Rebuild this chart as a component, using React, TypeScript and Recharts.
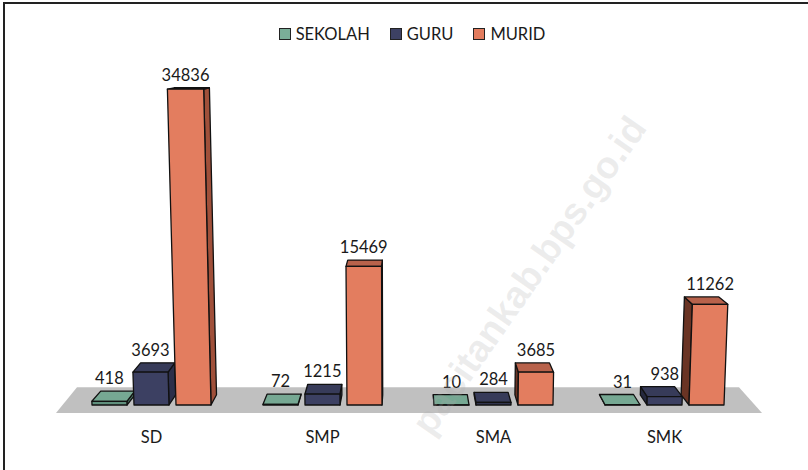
import React from 'react';
import { BarChart, Bar, XAxis, YAxis, ReferenceArea } from 'recharts';

const categories = ['SD', 'SMP', 'SMA', 'SMK'];
const sekolah = [418, 72, 10, 31];
const guru = [3693, 1215, 284, 938];
const murid = [34836, 15469, 3685, 11262];

const seriesNames = ['SEKOLAH', 'GURU', 'MURID'];

const data = categories.map((name, i) => ({
    name,
    SEKOLAH: sekolah[i],
    GURU: guru[i],
    MURID: murid[i]
}));

// face colours per series: front, top, right side, left side, legend
const palette: Record<string, any> = {
    SEKOLAH: { front: '#5f8f7c', top: '#76a893', right: '#4a7564', left: '#3f6556', legend: '#7aae98' },
    GURU: { front: '#3c4062', top: '#373b59', right: '#2c2f4a', left: '#25283e', legend: '#3d4163' },
    MURID: { front: '#e37d5f', top: '#b8624b', right: '#a0503a', left: '#6a3424', legend: '#e27c5e' }
};

const W = 808;
const H = 470;
const margin = { top: 50, right: 58, left: 66, bottom: 15 };
const VX = margin.left + (W - margin.left - margin.right) / 2;
const VY = 40;
const DEPTH = 0.028;
const SLANT = 1.2e-4;
const STRETCH = 7e-5;

const pts = (list: number[][]) => list.map(p => `${p[0]},${p[1]}`).join(' ');

const Box3D = (props: any) => {
    const { x, y, width, height, payload, series } = props;
    const c = palette[series];
    const base = y + height;
    const h = height;
    const px = (X: number) => VX + (X - VX) * (1 + SLANT * h);
    const ty = y - STRETCH * h * h;
    const FL = [x, base];
    const FR = [x + width, base];
    const TL = [px(x), ty];
    const TR = [px(x + width), ty];
    const back = (p: number[]) => [p[0] + DEPTH * (VX - p[0]), p[1] + DEPTH * (VY - p[1])];
    const rightSide = x + width / 2 < VX;
    const side = rightSide ? [TR, back(TR), back(FR), FR] : [TL, back(TL), back(FL), FL];
    const topFace = [TL, TR, back(TR), back(TL)];
    const stroke = { stroke: '#111', strokeWidth: 1.3, strokeLinejoin: 'round' as const };
    const labelY = Math.min(back(TL)[1], back(TR)[1]) - 7;
    return (
        <g>
            <polygon points={pts(side)} fill={rightSide ? c.right : c.left} {...stroke} />
            <polygon points={pts(topFace)} fill={c.top} {...stroke} />
            <polygon points={pts([FL, TL, TR, FR])} fill={c.front} {...stroke} />
            <text x={(TL[0] + TR[0]) / 2} y={labelY} textAnchor="middle" fontSize={16.5} fill="#1a1a1a" fontFamily="Lato">
                {payload[series]}
            </text>
        </g>
    );
};

const Floor = (props: any) => {
    const { x, y, width, height } = props;
    const bottom = y + height;
    return (
        <polygon
            points={pts([[x - 10, bottom], [x + 11, y], [x + width - 11, y], [x + width + 12, bottom]])}
            fill="#c0c0c0"
        />
    );
};

const App = () => {
    return (
        <div style={{ position: 'absolute', left: 0, top: 0, width: W, height: H, background: '#fff', overflow: 'hidden', fontFamily: 'Lato' }}>
            <div style={{ position: 'absolute', left: 3, top: 2, width: 900, height: 600, borderLeft: '2px solid #222', borderTop: '2px solid #222' }} />

            {/* legend */}
            <div style={{ position: 'absolute', left: 0, top: 24, width: 824, display: 'flex', justifyContent: 'center', gap: 20, fontSize: 16.5, lineHeight: '20px', color: '#1a1a1a' }}>
                {seriesNames.map(s => (
                    <div key={s} style={{ display: 'flex', alignItems: 'center' }}>
                        <span style={{ width: 10, height: 10, border: '1px solid #222', background: palette[s].legend, marginRight: 5, display: 'inline-block' }} />
                        <span>{s}</span>
                    </div>
                ))}
            </div>

            <div style={{ position: 'absolute', left: 0, top: 0 }}>
                <BarChart width={W} height={H} data={data} margin={margin} barSize={35} barGap={7}>
                    <ReferenceArea y1={-900} y2={2000} ifOverflow="visible" shape={<Floor />} />
                    <XAxis
                        dataKey="name"
                        axisLine={false}
                        tickLine={false}
                        tickSize={0}
                        tickMargin={26}
                        height={50}
                        tick={{ fontSize: 16.5, fill: '#1a1a1a', fontFamily: 'Lato' }}
                    />
                    <YAxis hide domain={[0, 40000]} />
                    {seriesNames.map(s => (
                        <Bar key={s} dataKey={s} isAnimationActive={false} shape={(p: any) => <Box3D {...p} series={s} />} />
                    ))}
                </BarChart>
            </div>

            {/* watermark */}
            <svg width={W} height={H} style={{ position: 'absolute', left: 0, top: 0, pointerEvents: 'none' }}>
                <text
                    x={648}
                    y={128}
                    transform="rotate(-55 648 128)"
                    textAnchor="end"
                    fontSize={38}
                    fontWeight="bold"
                    fontFamily="Liberation Sans"
                    fill="rgba(170,170,170,0.22)"
                >
                    pacitankab.bps.go.id
                </text>
            </svg>
        </div>
    );
};

export default App;
